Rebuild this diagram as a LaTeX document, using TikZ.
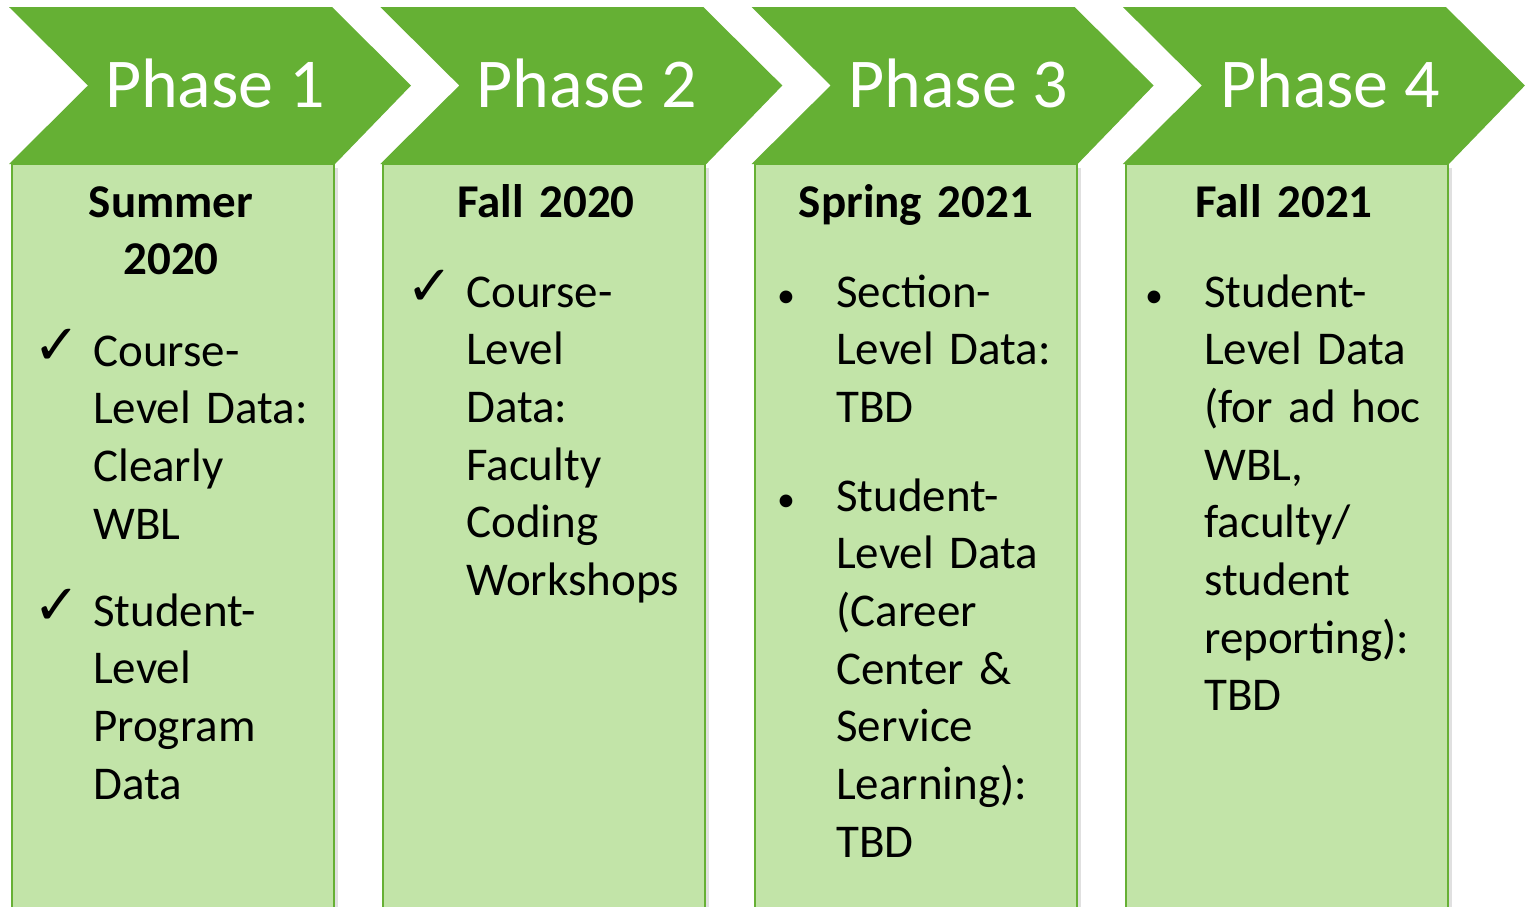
\documentclass[tikz,border=0pt]{standalone}
\usepackage{fontspec}
\setmainfont{Carlito}
\newfontfamily\symfont{DejaVu Sans}
\definecolor{chev}{HTML}{65B034}
\definecolor{boxfill}{HTML}{C2E4A8}
\definecolor{boxline}{HTML}{66B034}
\tikzset{
  chevron/.style={fill=chev, draw=none},
  colbox/.style={fill=boxfill, draw=boxline, line width=2pt},
  shadowbox/.style={fill=black!12, draw=none},
  phaselabel/.style={text=white, font=\fontsize{70}{84}\selectfont, anchor=base, inner sep=0pt},
  heading/.style={font=\bfseries\fontsize{47}{57.7}\selectfont, anchor=base, align=center, text width=300pt, inner sep=0pt},
  item/.style={font=\fontsize{47}{57.7}\selectfont, anchor=base west, align=left, text width=250pt, inner sep=0pt},
  marker/.style={font=\fontsize{56}{60}\symfont, anchor=base west, inner sep=0pt},
  dot/.style={font=\fontsize{36}{40}\selectfont, anchor=base west, inner sep=0pt}
}
\begin{document}
\begin{tikzpicture}[x=1pt,y=-1pt]
\useasboundingbox (0,0) rectangle (1530,906);
\foreach \i in {0,1,2,3}{
  \pgfmathsetmacro{\L}{9+371.3*\i}
  \fill[shadowbox] (\L+5,168) rectangle (\L+329,920);
  \draw[colbox] (\L+3,164) rectangle (\L+325,930);
  \fill[chevron] (\L,7) -- (\L+323,7) -- (\L+402,85.5) -- (\L+326,164) -- (\L,164) -- (\L+79,85.5) -- cycle;
}
\node[phaselabel] (p1) at (215,107) {Phase 1};
\node[phaselabel] (p2) at (586.7,107) {Phase 2};
\node[phaselabel] (p3) at (958.4,107) {Phase 3};
\node[phaselabel] (p4) at (1330.1,107) {Phase 4};

\node[heading] (h1) at (171,217) {Summer\\2020};
\node[heading] (h2) at (546,217) {Fall 2020};
\node[heading] (h3) at (916,217) {Spring 2021};
\node[heading] (h4) at (1284,217) {Fall 2021};

% column 1
\node[marker] (c1a) at (33,364) {✓};
\node[item] (t1a) at (93,366) {Course-\\Level Data:\\Clearly\\WBL};
\node[marker] (c1b) at (33,624) {✓};
\node[item] (t1b) at (93,626) {Student-\\Level\\Program\\Data};
% column 2
\node[marker] (c2a) at (406,305) {✓};
\node[item] (t2a) at (466,307) {Course-\\Level\\Data:\\Faculty\\Coding\\Workshops};
% column 3
\node[dot] (b3a) at (777,307) {•};
\node[item] (t3a) at (836,307) {Section-\\Level Data:\\TBD};
\node[dot] (b3b) at (777,511) {•};
\node[item] (t3b) at (836,511) {Student-\\Level Data\\(Career\\Center \&\\Service\\Learning):\\TBD};
% column 4
\node[dot] (b4a) at (1145,307) {•};
\node[item] (t4a) at (1204,307) {Student-\\Level Data\\(for ad hoc\\WBL,\\faculty/\\student\\reporting):\\TBD};
\end{tikzpicture}
\end{document}
